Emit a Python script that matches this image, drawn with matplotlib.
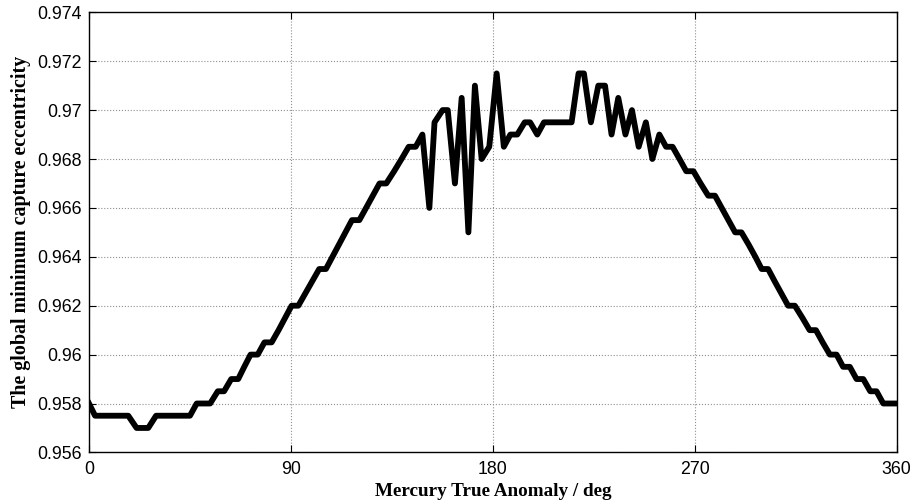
import matplotlib
matplotlib.use("Agg")
import matplotlib.pyplot as plt

# Mercury true anomaly (deg) at the line's vertices
anomaly_deg = [0, 2.7, 17.5, 21.2, 26.4, 29.9, 45, 48, 54, 57.4, 60.2, 63.4, 66.5, 69.2,
               72, 75.2, 78.2, 81.4, 84.5, 87.4, 90.3, 93.3, 96.4, 99.5, 102.6, 105.6,
               108.5, 111.4, 114.3, 117.2, 120.5, 123.5, 126.5, 129.5, 132.5, 136, 139.3,
               142.5, 145.6, 148.6, 151.7, 154, 157.6, 159.9, 163.1, 166.1, 169.1, 172.0,
               175.0, 178.4, 181.7, 184.9, 187.8, 190.9, 194.2, 196.6, 199.8, 202.8, 215.1,
               218.2, 220.6, 223.7, 227.0, 230.0, 232.9, 235.9, 239.1, 242.0, 245.0, 248.2,
               251.1, 254.2, 257.2, 260.1, 263.2, 266.2, 269.4, 272.6, 276.0, 279.0, 282,
               285, 288.0, 290.8, 294, 297, 299.8, 302.7, 305.6, 308.6, 311.6, 314.6, 318,
               321.2, 324, 327, 330.2, 333.2, 336.1, 339.1, 342.1, 345.1, 348.2, 351, 354,
               360]
eccentricity = [0.958, 0.9575, 0.9575, 0.957, 0.957, 0.9575, 0.9575, 0.958, 0.958, 0.9585,
                0.9585, 0.959, 0.959, 0.9595, 0.960, 0.960, 0.9605, 0.9605, 0.961, 0.9615,
                0.962, 0.962, 0.9625, 0.963, 0.9635, 0.9635, 0.964, 0.9645, 0.965, 0.9655,
                0.9655, 0.966, 0.9665, 0.967, 0.967, 0.9675, 0.968, 0.9685, 0.9685, 0.969,
                0.966, 0.9695, 0.970, 0.970, 0.967, 0.9705, 0.965, 0.971, 0.968, 0.9685,
                0.9715, 0.9685, 0.969, 0.969, 0.9695, 0.9695, 0.969, 0.9695, 0.9695, 0.9715,
                0.9715, 0.9695, 0.971, 0.971, 0.969, 0.9705, 0.969, 0.970, 0.9685, 0.9695,
                0.968, 0.969, 0.9685, 0.9685, 0.968, 0.9675, 0.9675, 0.967, 0.9665, 0.9665,
                0.966, 0.9655, 0.965, 0.965, 0.9645, 0.964, 0.9635, 0.9635, 0.963, 0.9625,
                0.962, 0.962, 0.9615, 0.961, 0.961, 0.9605, 0.960, 0.960, 0.9595, 0.9595,
                0.959, 0.959, 0.9585, 0.9585, 0.958, 0.958]

x_ticks = [0, 90, 180, 270, 360]
y_ticks = [0.956, 0.958, 0.96, 0.962, 0.964, 0.966, 0.968, 0.97, 0.972, 0.974]
y_tick_labels = ["0.956", "0.958", "0.96", "0.962", "0.964", "0.966", "0.968", "0.97", "0.972", "0.974"]

fig = plt.figure(figsize=(9.15, 5.04), dpi=100)
ax = fig.add_axes([89 / 915, 1 - 452.4 / 504, (896.7 - 89) / 915, (452.4 - 12.3) / 504])

ax.plot(anomaly_deg, eccentricity, color="black", linewidth=4.2, solid_joinstyle="round")

ax.set_xlim(0, 360)
ax.set_ylim(0.956, 0.974)
ax.set_xticks(x_ticks)
ax.set_yticks(y_ticks)
ax.set_yticklabels(y_tick_labels)

for lab in ax.get_xticklabels() + ax.get_yticklabels():
    lab.set_fontfamily("Liberation Sans")
    lab.set_fontsize(12.8)

ax.tick_params(direction="in", length=5, width=0.8, top=True, right=True,
               labeltop=False, labelright=False)
ax.tick_params(axis="x", pad=6)
ax.tick_params(axis="y", pad=5)
ax.grid(True, linestyle=":", color="#909090", linewidth=0.8)
for s in ax.spines.values():
    s.set_linewidth(1.0)
    s.set_color("black")

ax.set_xlabel("Mercury True Anomaly / deg", fontfamily="Liberation Serif",
              fontweight="bold", fontsize=13.8, labelpad=4)
ax.set_ylabel("The global minimum capture eccentricity", fontfamily="Liberation Serif",
              fontweight="bold", fontsize=14.4, labelpad=5)

fig.savefig("out.png", dpi=100)
